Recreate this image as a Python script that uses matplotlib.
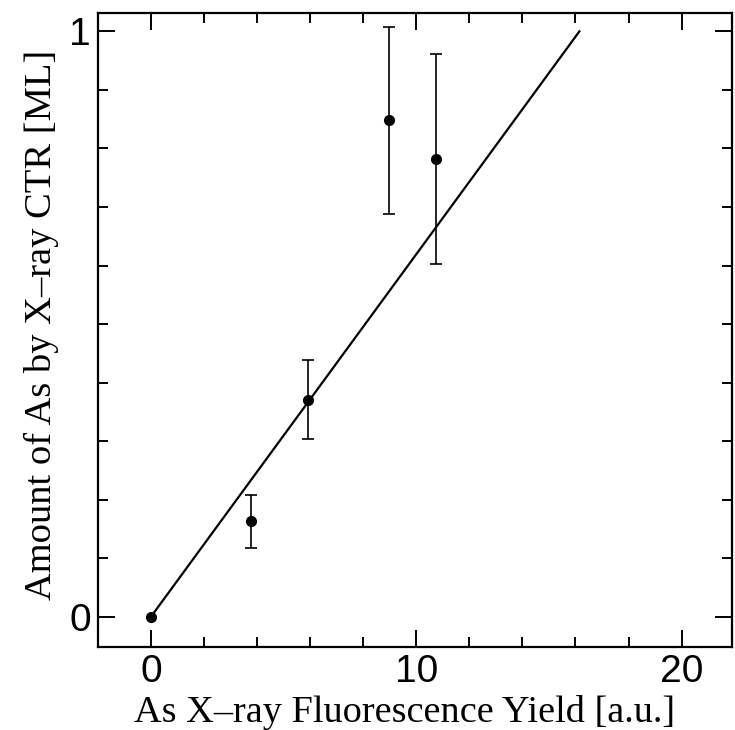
import numpy as np
import matplotlib
matplotlib.use("Agg")
import matplotlib.pyplot as plt
from matplotlib.ticker import MultipleLocator

# data
yield_au = [0.0, 3.77, 5.91, 8.99, 10.75]
amount_ml = [0.0, 0.163, 0.371, 0.848, 0.782]
amount_err = [0.0, 0.045, 0.068, 0.16, 0.18]

# fitted straight line through the origin
fit_x = [0.0, 16.15]
fit_y = [0.0, 1.0]

fig = plt.figure(figsize=(7.35, 7.3), dpi=100)
ax = fig.add_axes([0.133, 0.114, 0.863, 0.868])

ax.plot(fit_x, fit_y, color='black', lw=1.6)
ax.errorbar(yield_au[1:], amount_ml[1:], yerr=amount_err[1:], fmt='o', color='black',
            ms=7, elinewidth=1.2, capsize=4, capthick=1.2)
ax.plot(yield_au[:1], amount_ml[:1], 'o', color='black', ms=7)

ax.set_xlim(-2.0, 21.9)
ax.set_ylim(-0.051, 1.031)

ax.xaxis.set_major_locator(MultipleLocator(10))
ax.xaxis.set_minor_locator(MultipleLocator(2))
ax.yaxis.set_major_locator(MultipleLocator(1))
ax.yaxis.set_minor_locator(MultipleLocator(0.1))

ax.tick_params(which='both', direction='in', top=True, right=True, width=1.4, color='black')
ax.tick_params(which='major', length=12, labelsize=28, pad=5)
ax.tick_params(which='minor', length=7)
for lab in ax.get_xticklabels() + ax.get_yticklabels():
    lab.set_family('Liberation Sans')

for s in ax.spines.values():
    s.set_linewidth(1.6)

ax.set_xlabel('As X\u2013ray Fluorescence Yield [a.u.]', family='Liberation Serif', fontsize=27.5, labelpad=4)
ax.set_ylabel('Amount of As by X\u2013ray CTR [ML]', family='Liberation Serif', fontsize=27.7, labelpad=7)
ax.xaxis.label.set_x(0.483)
ax.yaxis.label.set_y(0.508)

fig.savefig('out.png', dpi=100)
